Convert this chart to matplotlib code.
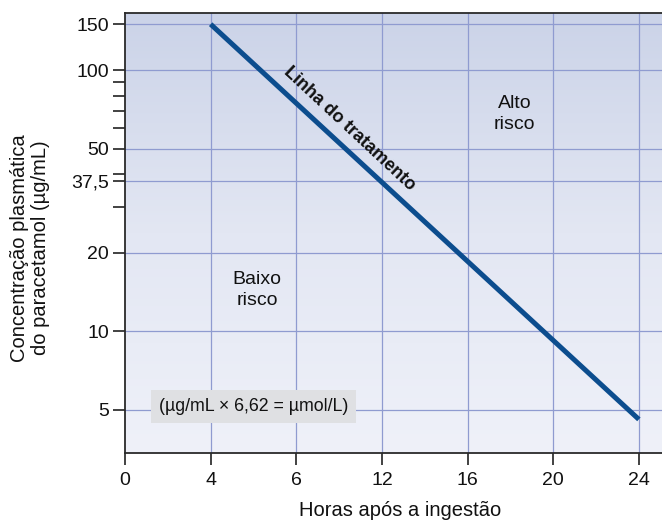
import numpy as np
import matplotlib
matplotlib.use("Agg")
import matplotlib.pyplot as plt
from matplotlib.ticker import FixedLocator, NullFormatter
from matplotlib.colors import LinearSegmentedColormap

plt.rcParams['font.family'] = ['Liberation Sans', 'DejaVu Sans']

# Axis categories (hours after ingestion, drawn at evenly spaced positions)
hour_ticks = [0, 4, 6, 12, 16, 20, 24]
hour_labels = ['0', '4', '6', '12', '16', '20', '24']

# Concentration ticks (µg/mL)
conc_major = [5, 10, 20, 37.5, 50, 100, 150]
conc_major_labels = ['5', '10', '20', '37,5', '50', '100', '150']
conc_minor = [30, 40, 60, 70, 80, 90]

# Treatment line endpoints
line_hours = [4, 24]
line_conc = [150, 4.6]

fig = plt.figure(figsize=(6.62, 5.22), dpi=100)
ax = fig.add_axes([125 / 662, 1 - 453 / 522, 1 - 125 / 662, (453 - 13) / 522])

positions = np.arange(len(hour_ticks))

def hour_to_pos(h):
    return np.interp(h, hour_ticks, positions)

ax.set_yscale('log')
ax.set_xlim(0, 6.27)
ax.set_ylim(3.42, 165.6)

# background gradient
cmap = LinearSegmentedColormap.from_list('bg', ['#eff1f9', '#e3e7f3', '#cbd3e8'])
grad = np.linspace(0, 1, 256).reshape(-1, 1)
ax.imshow(grad, extent=[0, 1, 0, 1], transform=ax.transAxes, cmap=cmap,
          origin='lower', aspect='auto', zorder=0)

grid_color = '#8f9bd0'
for p in positions[1:]:
    ax.axvline(p, color=grid_color, lw=0.9, zorder=1)
for v in conc_major:
    ax.axhline(v, color=grid_color, lw=0.9, zorder=1)

ax.plot(hour_to_pos(line_hours), line_conc, color='#0c4d8e', lw=3.6,
        solid_capstyle='butt', zorder=3)

ax.yaxis.set_major_locator(FixedLocator(conc_major))
ax.set_yticklabels(conc_major_labels)
ax.yaxis.set_minor_locator(FixedLocator(conc_minor))
ax.yaxis.set_minor_formatter(NullFormatter())
ax.set_xticks(positions)
ax.set_xticklabels(hour_labels)

ax.tick_params(axis='both', which='both', direction='out', length=8.5,
               width=1.3, color='#333333', labelsize=14, labelcolor='#111111')
ax.tick_params(axis='y', pad=3)
ax.tick_params(axis='x', pad=5)

for s in ['left', 'bottom', 'top']:
    ax.spines[s].set_color('#2a2a2a')
    ax.spines[s].set_linewidth(1.3)
ax.spines['right'].set_visible(False)

# Annotations
ax.text(hour_to_pos(9.7), 59.7, 'Linha do tratamento', rotation=-43,
        rotation_mode='anchor', ha='center', va='center', fontsize=13,
        fontweight='bold', color='#111111', zorder=4)
ax.text(4.55, 68, 'Alto\nrisco', ha='center', va='center', fontsize=14,
        color='#111111', linespacing=1.25, zorder=4)
ax.text(1.54, 14.4, 'Baixo\nrisco', ha='center', va='center', fontsize=14,
        color='#111111', linespacing=1.25, zorder=4)
ax.text(1.5, 5.15, '(\u00b5g/mL \u00d7 6,62 = \u00b5mol/L)', ha='center',
        va='center', fontsize=12.8, color='#111111', zorder=4,
        bbox=dict(boxstyle='square,pad=0.45', fc='#dfe0e3', ec='none'))

fig.text(400 / 662, 1 - 510 / 522, 'Horas após a ingestão', ha='center',
         va='center', fontsize=14.5, color='#111111')
fig.text(30 / 662, 1 - 248 / 522, 'Concentração plasmática\ndo paracetamol (\u00b5g/mL)',
         rotation=90, ha='center', va='center', fontsize=14.5, color='#111111',
         linespacing=1.15)

fig.savefig('out.png', dpi=100)
